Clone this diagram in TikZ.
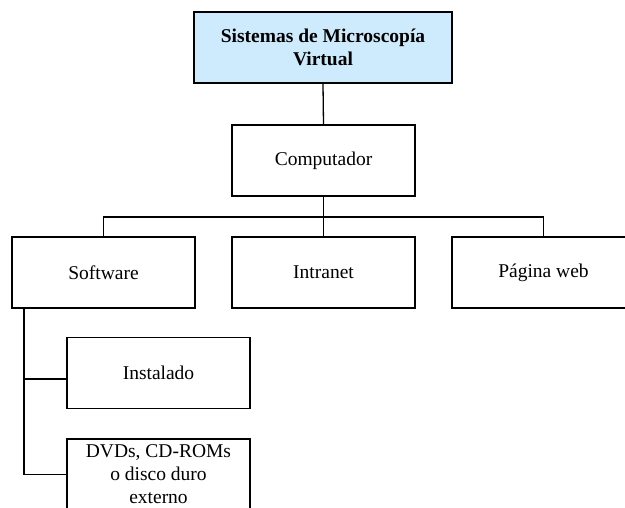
\documentclass[tikz,border=0pt]{standalone}
\usepackage{fontspec}
\setmainfont{Liberation Serif}
\definecolor{topfill}{RGB}{205,235,252}
\begin{document}
\begin{tikzpicture}[x=1pt,y=-1pt,
  box/.style={draw, line width=1.3pt, minimum width=183pt, minimum height=71pt, align=center, inner sep=2pt,
    font=\fontsize{19.5}{23}\selectfont},
  link/.style={line width=1.3pt}]
\useasboundingbox (0,0) rectangle (625,507);
\clip (0,0) rectangle (625,507);
\fill[white] (0,0) rectangle (625,507);
\node[box, fill=topfill, minimum width=258pt, font=\fontsize{19.5}{23}\selectfont\bfseries] (top) at (323,47.5) {Sistemas de Microscopía\\Virtual};
\node[box] (comp) at (323.5,160.5) {Computador};
\node[box] (soft) at (103.5,272.5) {Software};
\node[box] (intra) at (323.5,272.5) {Intranet};
\node[box] (web) at (543.5,272.5) {Página web};
\node[box] (inst) at (158.5,373) {Instalado};
\node[box] (dvd) at (158.5,474.5) {DVDs, CD-ROMs\\o disco duro\\externo};
\coordinate (bus) at (323.5,217);
\coordinate (trunk) at (24,308);
\draw[link] (top.south) -- (comp.north);
\draw[link] (comp.south) -- (intra.north);
\draw[link] (soft.north) |- (bus) -| (web.north);
\draw[link] (trunk) |- ([yshift=-6pt]inst.west);
\draw[link] (trunk) |- (dvd.west);
\end{tikzpicture}
\end{document}
